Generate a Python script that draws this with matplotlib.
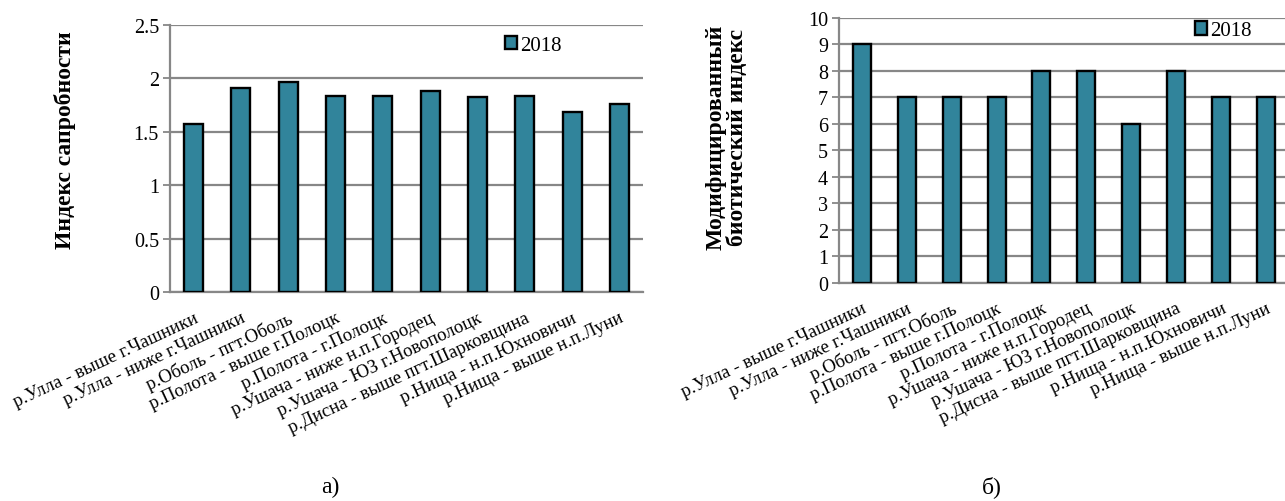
import matplotlib.pyplot as plt

plt.rcParams['font.family'] = ['Liberation Serif', 'DejaVu Serif']

sites = [
    'р.Улла - выше г.Чашники',
    'р.Улла - ниже г.Чашники',
    'р.Оболь - пгт.Оболь',
    'р.Полота - выше г.Полоцк',
    'р.Полота - г.Полоцк',
    'р.Ушача - ниже н.п.Городец',
    'р.Ушача - ЮЗ г.Новополоцк',
    'р.Дисна - выше пгт.Шарковщина',
    'р.Нища - н.п.Юхновичи',
    'р.Нища - выше н.п.Луни',
]
saprobity_2018 = [1.57, 1.91, 1.97, 1.84, 1.84, 1.88, 1.83, 1.84, 1.69, 1.76]
biotic_2018 = [9, 7, 7, 7, 8, 8, 6, 8, 7, 7]

bar_color = '#31849B'
grid_color = '#878787'


def draw_panel(ax, values, yticks, legend_xy):
    x = list(range(len(values)))
    ax.bar(x, values, width=0.40, color=bar_color, edgecolor='black',
           linewidth=1.7, label='2018', zorder=3)
    ax.set_xlim(-0.5, len(values) - 0.5)
    ax.set_ylim(yticks[0], yticks[-1])
    ax.set_yticks(yticks)
    ax.set_yticklabels([f'{t:g}' for t in yticks], fontsize=14.5)
    ax.yaxis.grid(True, color=grid_color, linewidth=1.6, zorder=0)
    ax.set_axisbelow(True)
    for side in ('top', 'right'):
        ax.spines[side].set_visible(False)
    for side in ('left', 'bottom'):
        ax.spines[side].set_color(grid_color)
        ax.spines[side].set_linewidth(1.6)
    ax.tick_params(axis='y', length=5, width=1.3, color=grid_color, pad=3)
    ax.tick_params(axis='x', length=0, pad=12)
    ax.set_xticks(x)
    ax.set_xticklabels(sites, rotation=25, ha='right', rotation_mode='anchor',
                       fontsize=13.5)
    ax.legend(loc='center left', bbox_to_anchor=legend_xy, frameon=False,
              fontsize=15, handlelength=0.6, handleheight=0.6,
              handletextpad=0.15, borderpad=0, borderaxespad=0)


fig = plt.figure(figsize=(12.85, 5.02), dpi=100)

# а) saprobity index
ax1 = fig.add_axes([0.1323, 0.4157, 0.3681, 0.5325])
draw_panel(ax1, saprobity_2018, [0, 0.5, 1, 1.5, 2, 2.5], (0.708, 0.925))
fig.text(64.5 / 1285, 1 - 140 / 502, 'Индекс сапробности', rotation=90,
         fontsize=17, fontweight='bold', ha='center', va='center')
fig.text(330 / 1285, 1 - 487 / 502, 'а)', fontsize=17, ha='center', va='center')

# б) modified biotic index
ax2 = fig.add_axes([0.653, 0.4349, 0.350, 0.5273])
draw_panel(ax2, biotic_2018, list(range(0, 11)), (0.791, 0.951))
fig.text(727 / 1285, 1 - 137 / 502, 'Модифицированный\nбиотический индекс',
         rotation=90, fontsize=17, fontweight='bold', ha='center',
         va='center', multialignment='center', linespacing=1.0)
fig.text(992 / 1285, 1 - 487 / 502, 'б)', fontsize=17, ha='center', va='center')

fig.savefig('out.png', dpi=100)
